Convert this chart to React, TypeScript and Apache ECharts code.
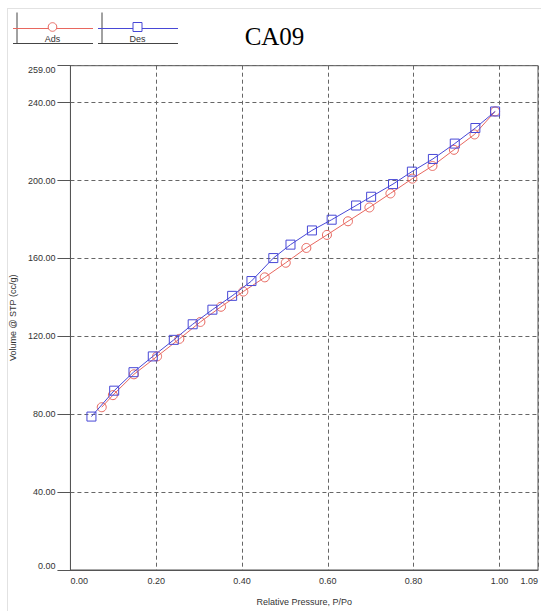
import React, { useEffect, useRef } from "react";
import * as echarts from "echarts";

const titleText = "CA09";
const xAxisName = "Relative Pressure, P/Po";
const yAxisName = "Volume @ STP (cc/g)";
const seriesNames = ["Ads", "Des"];

const xMin = 0;
const xMax = 1.09;
const xInterval = 0.2;
const yMin = 0;
const yMax = 259;
const yInterval = 40;

const adsP = [0.073, 0.099, 0.148, 0.202, 0.254, 0.303, 0.351, 0.403, 0.453, 0.502, 0.55, 0.598, 0.647, 0.697, 0.746, 0.797, 0.844, 0.894, 0.942, 0.99];
const adsV = [83.6, 89.8, 100.5, 109.7, 118.7, 127.4, 135.2, 143.0, 150.3, 157.8, 165.4, 172.1, 179.1, 186.2, 193.4, 201.0, 207.5, 215.8, 223.7, 235.5];

const desP = [0.99, 0.944, 0.896, 0.845, 0.796, 0.752, 0.701, 0.666, 0.609, 0.563, 0.513, 0.473, 0.422, 0.377, 0.331, 0.285, 0.241, 0.192, 0.147, 0.102, 0.049];
const desV = [235.5, 227.0, 219.0, 211.1, 204.6, 198.2, 191.7, 187.2, 179.9, 174.4, 167.1, 160.2, 148.4, 140.8, 133.7, 126.2, 118.2, 109.7, 101.6, 92.1, 78.8];

const RED = "#e8675f";
const BLUE = "#4848d6";
const AXIS = "#555";
const LABEL_FONT = "Liberation Sans";

export default function App() {
  const ref = useRef<HTMLDivElement>(null);

  useEffect(() => {
    if (!ref.current) return;
    const chart = echarts.init(ref.current, undefined, { renderer: "svg" });

    const adsData = adsP.map((p, i) => [p, adsV[i]]);
    const desData = desP.map((p, i) => [p, desV[i]]);

    const legendItem = (x0: number, color: string, symbol: "circle" | "rect", label: string) => {
      const children: any[] = [
        { type: "line", shape: { x1: x0 + 4, y1: 12.5, x2: x0 + 4, y2: 44 }, style: { stroke: "#444", lineWidth: 1 } },
        { type: "line", shape: { x1: x0, y1: 43.5, x2: x0 + 80, y2: 43.5 }, style: { stroke: "#444", lineWidth: 1 } },
        { type: "line", shape: { x1: x0, y1: 28.5, x2: x0 + 80, y2: 28.5 }, style: { stroke: color, lineWidth: 1 } },
      ];
      if (symbol === "circle") {
        children.push({ type: "circle", shape: { cx: x0 + 39.5, cy: 27, r: 4.3 }, style: { fill: "#fff", stroke: color, lineWidth: 1 } });
      } else {
        children.push({ type: "rect", shape: { x: x0 + 35, y: 22.5, width: 9, height: 9 }, style: { fill: "#fff", stroke: color, lineWidth: 1 } });
      }
      children.push({
        type: "text",
        x: x0 + 39.5,
        y: 38.5,
        style: { text: label, fill: "#333", font: `9px "${LABEL_FONT}"`, align: "center", verticalAlign: "middle" },
      });
      return { type: "group", children };
    };

    chart.setOption({
      animation: false,
      backgroundColor: "#fff",
      grid: {
        left: 62.5,
        right: 1.5,
        top: 65.7,
        bottom: 37,
        show: true,
        borderColor: AXIS,
        borderWidth: 1,
        containLabel: false,
      },
      graphic: [
        { type: "line", shape: { x1: 7, y1: 8.5, x2: 541, y2: 8.5 }, style: { stroke: "#e2e2e2", lineWidth: 1 } },
        { type: "line", shape: { x1: 7.5, y1: 8, x2: 7.5, y2: 611 }, style: { stroke: "#e2e2e2", lineWidth: 1 } },
        legendItem(13, RED, "circle", seriesNames[0]),
        legendItem(98, BLUE, "rect", seriesNames[1]),
        {
          type: "text",
          x: 274.5,
          y: 36.5,
          style: { text: titleText, fill: "#000", font: '25px "Liberation Serif"', align: "center", verticalAlign: "middle" },
        },
      ],
      xAxis: {
        type: "value",
        min: xMin,
        max: xMax,
        interval: xInterval,
        name: xAxisName,
        nameLocation: "middle",
        nameGap: 27,
        nameTextStyle: { fontSize: 9, color: "#333", fontFamily: LABEL_FONT },
        axisLine: { show: true, lineStyle: { color: AXIS, width: 1 } },
        axisTick: { show: false },
        axisLabel: {
          fontSize: 9,
          color: "#333",
          fontFamily: LABEL_FONT,
          margin: 6,
          showMinLabel: true,
          showMaxLabel: true,
          alignMinLabel: "left",
          alignMaxLabel: "right",
          formatter: (v: number) => v.toFixed(2),
        },
        splitLine: { show: true, lineStyle: { color: "#666", type: [4, 3], width: 1 } },
      },
      yAxis: {
        type: "value",
        min: yMin,
        max: yMax,
        interval: yInterval,
        name: yAxisName,
        nameLocation: "middle",
        nameGap: 51,
        nameTextStyle: { fontSize: 9, color: "#333", fontFamily: LABEL_FONT },
        axisLine: { show: true, lineStyle: { color: AXIS, width: 1 } },
        axisTick: { show: true, length: 13, lineStyle: { color: AXIS, width: 1 } },
        axisLabel: {
          fontSize: 9,
          color: "#333",
          fontFamily: LABEL_FONT,
          margin: 15,
          showMinLabel: true,
          showMaxLabel: true,
          verticalAlignMinLabel: "bottom",
          verticalAlignMaxLabel: "top",
          formatter: (v: number) => v.toFixed(2),
        },
        splitLine: { show: true, lineStyle: { color: "#666", type: [4, 3], width: 1 } },
      },
      series: [
        {
          name: seriesNames[0],
          type: "line",
          data: adsData,
          symbol: "circle",
          symbolSize: 9,
          showSymbol: true,
          lineStyle: { color: RED, width: 1 },
          itemStyle: { color: "rgba(255,255,255,0)", borderColor: RED, borderWidth: 1 },
          z: 3,
        },
        {
          name: seriesNames[1],
          type: "line",
          data: desData,
          symbol: "rect",
          symbolSize: 9,
          showSymbol: true,
          lineStyle: { color: BLUE, width: 1 },
          itemStyle: { color: "rgba(255,255,255,0)", borderColor: BLUE, borderWidth: 1 },
          z: 4,
        },
      ],
    });

    return () => chart.dispose();
  }, []);

  return (
    <div
      ref={ref}
      style={{ position: "fixed", left: 0, top: 0, width: 541, height: 611, background: "#fff" }}
    />
  );
}
